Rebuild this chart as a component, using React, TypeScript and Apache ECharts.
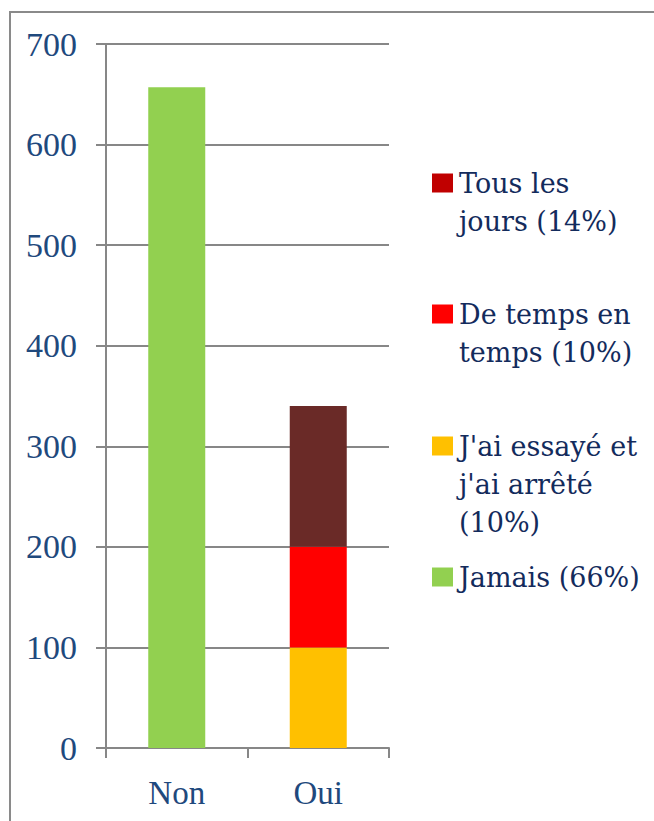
import React, { useEffect, useRef } from 'react';
import * as echarts from 'echarts';

const categories = ['Non', 'Oui'];
const essayeValues: (number | string)[] = ['-', 100];
const deTempsValues: (number | string)[] = ['-', 100];
const tousLesJoursValues: (number | string)[] = ['-', 140];
const jamaisValues: (number | string)[] = [657, '-'];

const nameEssaye = "J'ai essayé et j'ai arrêté (10%)";
const nameDeTemps = 'De temps en temps (10%)';
const nameTous = 'Tous les jours (14%)';
const nameJamais = 'Jamais (66%)';

const legendLinesTous = ['Tous les', 'jours (14%)'];
const legendLinesDeTemps = ['De temps en', 'temps (10%)'];
const legendLinesEssaye = ["J'ai essayé et", "j'ai arrêté", '(10%)'];
const legendLinesJamais = ['Jamais (66%)'];

const yMin = 0;
const yMax = 700;
const yInterval = 100;

const FONT = 'Liberation Serif, serif';
const LEGEND_FONT = 'DejaVu Serif';
const AXIS_TEXT = '#1F497D';
const LEGEND_TEXT = '#132B5C';
const LINE = '#878787';
const LH = 38;

export default function App() {
  const ref = useRef<HTMLDivElement>(null);
  useEffect(() => {
    if (!ref.current) return;
    const chart = echarts.init(ref.current, undefined, { renderer: 'svg' });

    const items = [
      { name: nameTous, lines: legendLinesTous, color: '#C00000', center: 183 },
      { name: nameDeTemps, lines: legendLinesDeTemps, color: '#FF0000', center: 314 },
      { name: nameEssaye, lines: legendLinesEssaye, color: '#FFC000', center: 446 },
      { name: nameJamais, lines: legendLinesJamais, color: '#92D050', center: 577 },
    ];

    const legends = items.map((it) => ({
      left: 432,
      top: it.center - 9.5,
      orient: 'vertical',
      padding: 0,
      itemWidth: 21,
      itemHeight: 19,
      selectedMode: false,
      icon: 'rect',
      data: [{ name: it.name, icon: 'rect', itemStyle: { color: it.color } }],
      formatter: () => '',
      textStyle: { fontSize: 1 },
    }));

    const legendTexts: any[] = [];
    items.forEach((it) => {
      it.lines.forEach((line, i) => {
        legendTexts.push({
          type: 'text',
          silent: true,
          x: 459,
          y: it.center + i * LH,
          style: {
            text: line,
            fontFamily: LEGEND_FONT,
            fontSize: 27,
            fill: LEGEND_TEXT,
            align: 'left',
            verticalAlign: 'middle',
          },
        });
      });
    });

    chart.setOption({
      animation: false,
      backgroundColor: '#ffffff',
      textStyle: { fontFamily: FONT },
      graphic: [
        {
          type: 'rect',
          silent: true,
          z: -10,
          shape: { x: 10, y: 12, width: 900, height: 1000 },
          style: { fill: 'none', stroke: '#8a8a8a', lineWidth: 2 },
        },
        ...legendTexts,
      ],
      grid: { left: 106, right: 265, top: 44, bottom: 73, containLabel: false },
      legend: legends,
      xAxis: {
        type: 'category',
        data: categories,
        axisLine: { show: true, lineStyle: { color: LINE, width: 2 } },
        axisTick: { show: true, length: 10, lineStyle: { color: LINE, width: 2 } },
        axisLabel: { fontFamily: FONT, fontSize: 33, color: AXIS_TEXT, margin: 28 },
      },
      yAxis: {
        type: 'value',
        min: yMin,
        max: yMax,
        interval: yInterval,
        axisLine: { show: true, lineStyle: { color: LINE, width: 2 } },
        axisTick: { show: true, length: 10, lineStyle: { color: LINE, width: 2 } },
        splitLine: { show: true, lineStyle: { color: LINE, width: 2 } },
        axisLabel: { fontFamily: FONT, fontSize: 34, color: AXIS_TEXT, margin: 29 },
      },
      series: [
        { name: nameEssaye, type: 'bar', stack: 'total', barWidth: 57, data: essayeValues, itemStyle: { color: '#FFC000' } },
        { name: nameDeTemps, type: 'bar', stack: 'total', barWidth: 57, data: deTempsValues, itemStyle: { color: '#FF0000' } },
        { name: nameTous, type: 'bar', stack: 'total', barWidth: 57, data: tousLesJoursValues, itemStyle: { color: '#6A2A27' } },
        { name: nameJamais, type: 'bar', stack: 'total', barWidth: 57, data: jamaisValues, itemStyle: { color: '#92D050' } },
      ],
    });
    return () => chart.dispose();
  }, []);
  return (
    <div
      ref={ref}
      style={{ position: 'absolute', left: 0, top: 0, width: 654, height: 821, background: '#fff' }}
    />
  );
}
